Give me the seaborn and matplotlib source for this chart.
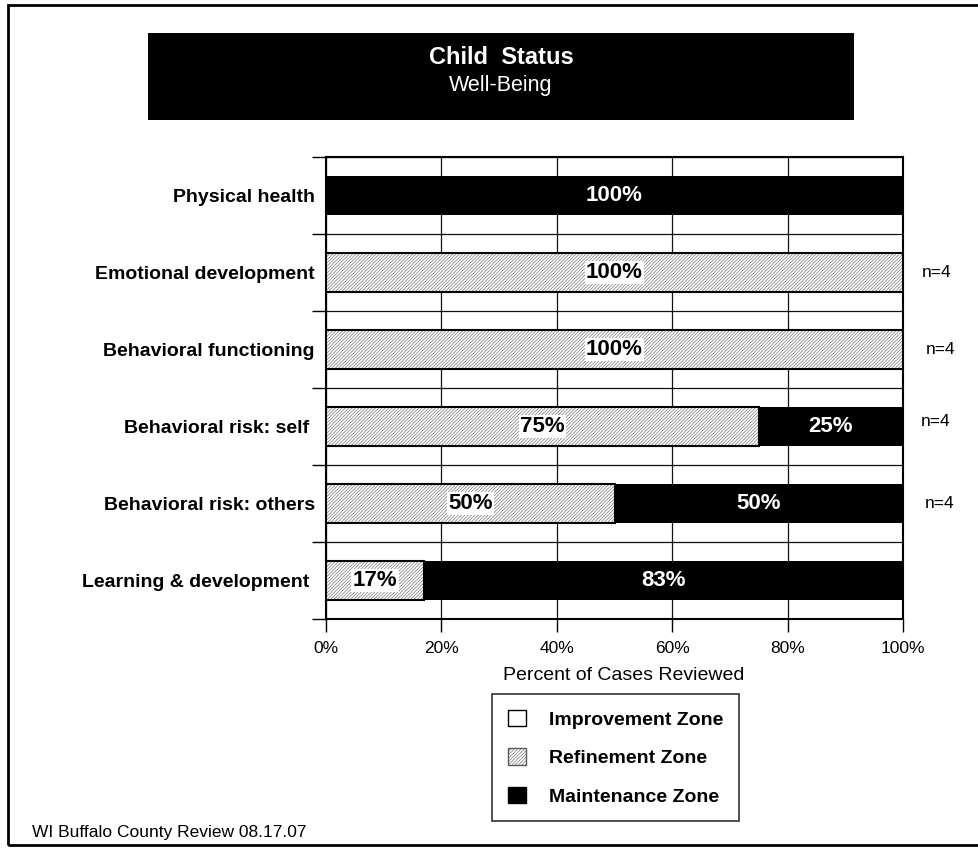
import matplotlib
matplotlib.use("Agg")
import matplotlib.pyplot as plt
from matplotlib.patches import Rectangle, Patch
import pandas as pd
import seaborn as sns

# ---- data -------------------------------------------------------------
categories = [
    "Physical health",
    "Emotional development",
    "Behavioral functioning",
    "Behavioral risk: self ",
    "Behavioral risk: others",
    "Learning & development ",
]
improvement = [0, 0, 0, 0, 0, 0]
refinement = [0, 100, 100, 75, 50, 17]
maintenance = [100, 0, 0, 25, 50, 83]
n_labels = ["", "n=4", "n=4", "n=4", "n=4", ""]
x_ticks = [0, 20, 40, 60, 80, 100]
zone_names = ["Improvement Zone", "Refinement Zone", "Maintenance Zone"]

# ---- style ------------------------------------------------------------
sns.set_theme(style="white")
plt.rcParams["font.family"] = ["Liberation Sans", "DejaVu Sans"]
plt.rcParams["text.color"] = "black"
plt.rcParams["axes.labelcolor"] = "black"
plt.rcParams["xtick.color"] = "black"
plt.rcParams["ytick.color"] = "black"
plt.rcParams["hatch.linewidth"] = 0.4
HATCH = "/" * 10
HATCH_COLOR = "#5a5a5a"

df = pd.DataFrame({
    "category": categories,
    "improvement": improvement,
    "refinement": refinement,
    "maintenance": maintenance,
})
df["total"] = df["improvement"] + df["refinement"] + df["maintenance"]
df["refine_end"] = df["improvement"] + df["refinement"]

W, H = 979, 848
fig = plt.figure(figsize=(W / 100, H / 100), dpi=100)
ax = fig.add_axes([326 / W, 1 - 619 / H, (903 - 326) / W, (619 - 157) / H])

# stacked bars: full extent in black, refinement segment over it
sns.barplot(data=df, x="total", y="category", orient="h", color="black",
            width=0.5, errorbar=None, saturation=1, ax=ax,
            edgecolor="black", linewidth=0, zorder=3)
sns.barplot(data=df, x="refine_end", y="category", orient="h", color="white",
            width=0.5, errorbar=None, saturation=1, ax=ax,
            hatch=HATCH, edgecolor=HATCH_COLOR, linewidth=0, zorder=4)
sns.barplot(data=df, x="refine_end", y="category", orient="h", color="black",
            fill=False, width=0.5, errorbar=None, saturation=1, ax=ax,
            edgecolor="black", linewidth=1.5, zorder=5)

ax.set_xlim(0, 100)
ax.set_ylim(len(categories) - 0.5, -0.5)

# axes, ticks and grid
ax.set_xticks(x_ticks)
ax.set_xticklabels([f"{t}%" for t in x_ticks], fontsize=12.5)
ax.tick_params(axis="x", which="major", direction="out", length=9.5,
               width=1, color="black", pad=6, bottom=True)
ax.set_yticks(range(len(categories)))
ax.set_yticklabels(categories, fontsize=14, fontweight="bold")
ax.tick_params(axis="y", which="major", length=0, pad=8)
ax.set_yticks([i - 0.5 for i in range(len(categories) + 1)], minor=True)
ax.tick_params(axis="y", which="minor", direction="out", length=10,
               width=1, color="black", left=True)
ax.grid(axis="x", which="major", color="#111111", linewidth=0.9)
ax.grid(axis="y", which="minor", color="#111111", linewidth=0.9)
ax.set_axisbelow(True)
for s in ax.spines.values():
    s.set_visible(True)
    s.set_color("black")
    s.set_linewidth(1.5)

ax.set_ylabel("")
ax.set_xlabel("Percent of Cases Reviewed", fontsize=14)
ax.xaxis.set_label_coords((624 - 326) / (903 - 326), -0.104)

# value labels on the segments
for i, row in df.iterrows():
    start = row["improvement"]
    if row["refinement"] > 0:
        ax.text(start + row["refinement"] / 2, i, f"{row['refinement']}%",
                ha="center", va="center", fontsize=16, fontweight="bold",
                color="black", zorder=6,
                bbox=dict(facecolor="white", edgecolor="none", pad=1))
    if row["maintenance"] > 0:
        ax.text(row["refine_end"] + row["maintenance"] / 2, i,
                f"{row['maintenance']}%", ha="center", va="center",
                fontsize=16, fontweight="bold", color="white", zorder=6)

# case counts at the right of the bars
n_x = [103.3, 103.3, 104.0, 103.1, 103.8, 103.3]
n_dy = [0, 0, 0, -0.06, 0, 0]
for i, lab in enumerate(n_labels):
    if lab:
        ax.text(n_x[i], i + n_dy[i], lab, ha="left", va="center",
                fontsize=12.5, clip_on=False)

# title banner
fig.patches.append(Rectangle((148 / W, 1 - 120 / H), (854 - 148) / W, 87 / H,
                             transform=fig.transFigure, facecolor="black",
                             edgecolor="none", zorder=1))
fig.text(501 / W, 1 - 58 / H, "Child  Status", ha="center", va="center",
         fontsize=17, fontweight="bold", color="white", zorder=2)
fig.text(501 / W, 1 - 86 / H, "Well-Being", ha="center", va="center",
         fontsize=15.5, color="white", zorder=2)

# legend
handles = [
    Patch(facecolor="white", edgecolor="black", linewidth=1),
    Patch(facecolor="white", edgecolor=HATCH_COLOR, hatch=HATCH, linewidth=1),
    Patch(facecolor="black", edgecolor="black", linewidth=1),
]
leg = fig.legend(handles, zone_names, loc="upper left",
                 bbox_to_anchor=(492 / W, 1 - 694 / H),
                 prop={"size": 14, "weight": "bold"},
                 handlelength=0.95, handleheight=0.95, handletextpad=1.2,
                 labelspacing=1.0, borderpad=0.8, borderaxespad=0,
                 fancybox=False, frameon=True)
leg.get_frame().set_edgecolor("black")
leg.get_frame().set_linewidth(1.2)

# footer and page frame
fig.text(32 / W, 1 - 832 / H, "WI Buffalo County Review 08.17.07",
         ha="left", va="center", fontsize=12.5)
fig.patches.append(Rectangle((8 / W, 1 - 845 / H), 1.0, (845 - 5) / H,
                             transform=fig.transFigure, fill=False,
                             edgecolor="black", linewidth=2, zorder=0))

fig.savefig("out.png", dpi=100, facecolor="white")
